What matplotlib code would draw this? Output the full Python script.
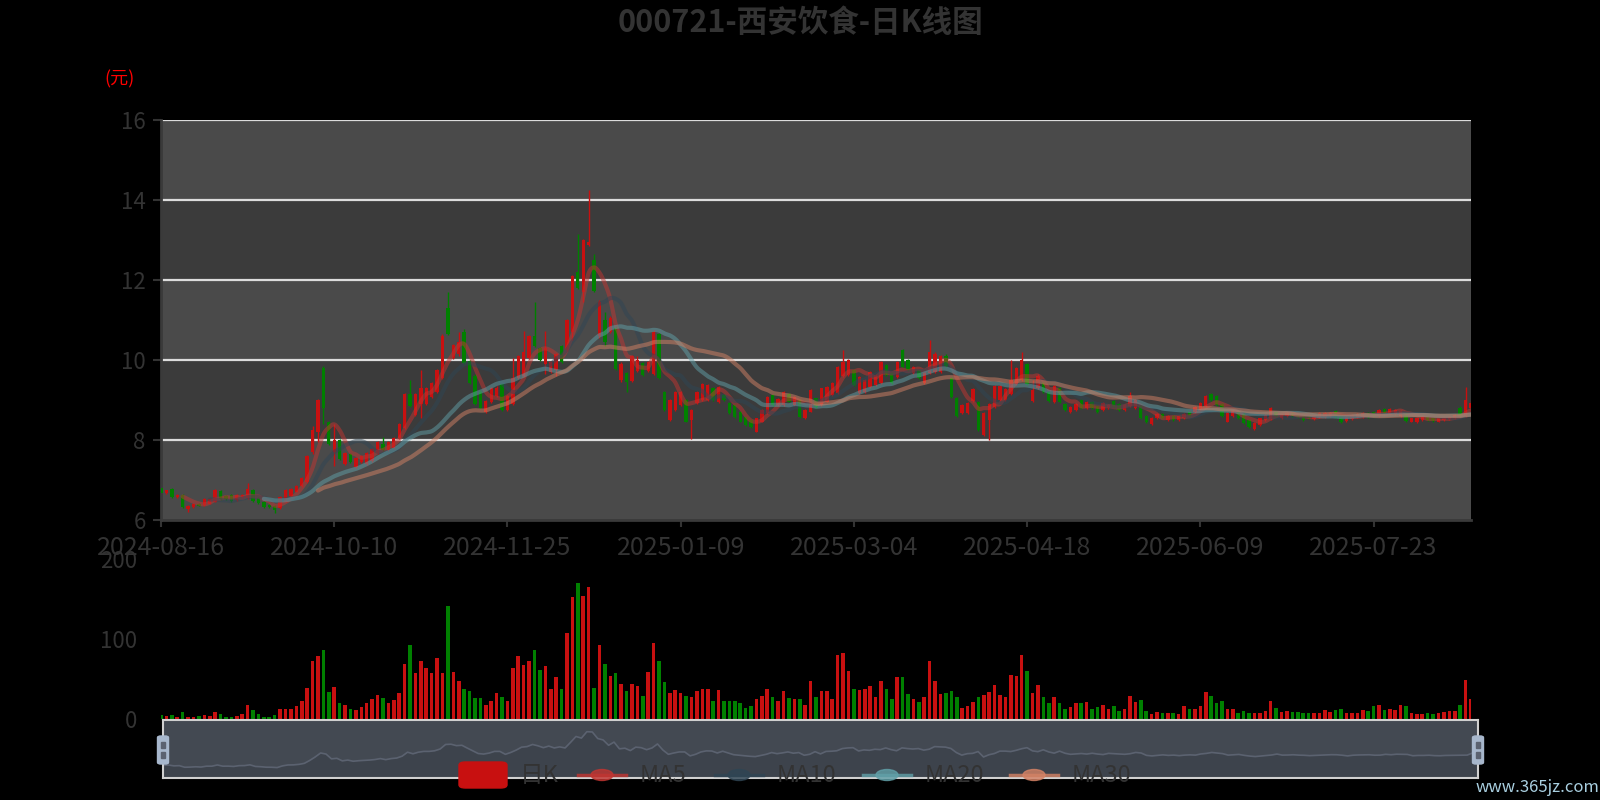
import numpy as np
import matplotlib
matplotlib.use('Agg')
import matplotlib.pyplot as plt
from matplotlib.patches import FancyBboxPatch, Circle, Rectangle
from matplotlib.lines import Line2D

plt.rcParams['font.family'] = ['Noto Sans CJK SC', 'DejaVu Sans']

title = '000721-西安饮食-日K线图'
tick_labels = ['2024-08-16', '2024-10-10', '2024-11-25', '2025-01-09',
               '2025-03-04', '2025-04-18', '2025-06-09', '2025-07-23']
tick_step = 32

opens = [6.81, 6.67, 6.77, 6.58, 6.62, 6.28, 6.32, 6.40, 6.38, 6.41,
         6.46, 6.72, 6.60, 6.62, 6.50, 6.58, 6.55, 6.75, 6.55, 6.45,
         6.38, 6.35, 6.30, 6.46, 6.60, 6.71, 6.85, 6.95, 7.70, 8.20,
         9.80, 8.45, 7.70, 8.00, 7.40, 7.65, 7.32, 7.45, 7.40, 7.47,
         7.67, 7.90, 7.75, 7.80, 8.05, 8.30, 9.15, 8.62, 8.90, 8.90,
         9.08, 9.20, 9.55, 11.30, 10.05, 10.15, 10.70, 9.97, 9.60, 9.20,
         8.70, 8.95, 9.10, 9.40, 8.75, 8.90, 9.55, 9.60, 10.05, 10.60,
         10.30, 9.90, 9.70, 9.75, 10.35, 10.25, 10.70, 12.20, 11.70, 12.88,
         12.50, 10.60, 11.00, 10.70, 10.80, 9.50, 9.67, 9.48, 9.72, 9.92,
         9.72, 9.65, 10.65, 9.20, 8.50, 8.75, 8.88, 9.00, 8.50, 8.92,
         9.00, 9.00, 9.30, 8.95, 9.13, 8.93, 8.87, 8.70, 8.58, 8.50,
         8.21, 8.46, 8.67, 9.12, 8.87, 8.87, 9.15, 8.87, 9.00, 8.54,
         8.71, 9.04, 8.87, 8.96, 9.12, 9.17, 9.60, 9.63, 9.75, 9.17,
         9.20, 9.33, 9.38, 9.42, 9.88, 9.67, 9.58, 10.25, 10.00, 9.67,
         9.75, 9.42, 9.67, 9.70, 9.70, 10.10, 9.55, 9.05, 8.67, 8.67,
         8.97, 8.96, 8.12, 8.50, 8.83, 9.00, 9.00, 9.15, 9.40, 9.50,
         9.90, 8.97, 9.30, 9.45, 9.20, 8.95, 9.30, 8.90, 8.70, 8.75,
         9.00, 8.80, 8.95, 8.85, 8.75, 8.80, 8.97, 8.90, 8.75, 8.85,
         8.80, 8.85, 8.60, 8.40, 8.55, 8.65, 8.50, 8.60, 8.50, 8.55,
         8.70, 8.70, 8.77, 8.85, 9.15, 9.10, 8.90, 8.46, 8.60, 8.70,
         8.65, 8.50, 8.27, 8.38, 8.50, 8.52, 8.70, 8.55, 8.60, 8.68,
         8.63, 8.60, 8.60, 8.52, 8.58, 8.58, 8.60, 8.72, 8.60, 8.48,
         8.52, 8.57, 8.58, 8.67, 8.70, 8.60, 8.77, 8.65, 8.65, 8.60,
         8.68, 8.46, 8.44, 8.49, 8.57, 8.55, 8.46, 8.49, 8.52, 8.55,
         8.80, 8.60, 8.80]

closes = [6.67, 6.74, 6.58, 6.62, 6.32, 6.35, 6.41, 6.36, 6.52, 6.52,
          6.75, 6.52, 6.53, 6.47, 6.62, 6.63, 6.78, 6.47, 6.42, 6.33,
          6.32, 6.26, 6.58, 6.75, 6.77, 6.86, 7.05, 7.60, 8.25, 9.00,
          8.80, 7.90, 8.00, 7.52, 7.67, 7.45, 7.55, 7.60, 7.67, 7.77,
          7.95, 7.75, 7.95, 8.05, 8.40, 9.15, 8.85, 9.15, 9.30, 9.30,
          9.42, 9.75, 10.60, 10.65, 10.38, 10.45, 9.92, 9.42, 8.90, 8.80,
          8.98, 9.30, 9.30, 8.75, 9.10, 9.55, 10.10, 10.20, 10.60, 10.35,
          10.00, 10.30, 9.95, 10.15, 9.95, 11.00, 12.10, 11.80, 13.00, 12.95,
          11.72, 11.45, 10.45, 11.05, 9.78, 9.90, 9.45, 10.10, 10.00, 9.62,
          9.95, 10.70, 9.55, 8.75, 9.00, 9.20, 9.20, 8.46, 8.75, 9.20,
          9.40, 9.37, 9.00, 9.33, 9.00, 8.68, 8.58, 8.46, 8.38, 8.32,
          8.54, 8.75, 9.08, 8.87, 9.02, 9.20, 8.96, 9.08, 8.58, 8.75,
          9.25, 8.83, 9.29, 9.33, 9.42, 9.83, 9.95, 10.00, 9.38, 9.58,
          9.50, 9.70, 9.63, 9.95, 9.63, 9.42, 9.96, 9.83, 9.75, 9.83,
          9.54, 9.71, 10.20, 10.15, 10.10, 9.85, 9.08, 8.60, 8.87, 8.93,
          9.27, 8.25, 8.67, 8.90, 9.35, 9.35, 9.27, 9.50, 9.80, 10.00,
          9.40, 9.25, 9.60, 9.20, 8.97, 9.35, 8.95, 8.75, 8.82, 8.90,
          8.80, 8.95, 8.80, 8.70, 8.93, 8.87, 8.82, 8.75, 8.87, 9.10,
          9.00, 8.55, 8.45, 8.55, 8.65, 8.55, 8.60, 8.50, 8.60, 8.65,
          8.60, 8.82, 8.92, 9.10, 9.00, 8.88, 8.60, 8.67, 8.73, 8.55,
          8.42, 8.33, 8.43, 8.54, 8.62, 8.80, 8.60, 8.62, 8.67, 8.60,
          8.57, 8.50, 8.55, 8.60, 8.67, 8.68, 8.67, 8.58, 8.45, 8.58,
          8.63, 8.65, 8.67, 8.58, 8.60, 8.75, 8.67, 8.77, 8.75, 8.73,
          8.48, 8.54, 8.54, 8.58, 8.50, 8.48, 8.54, 8.56, 8.58, 8.62,
          8.60, 9.00, 8.92]

lows = [6.65, 6.65, 6.56, 6.56, 6.30, 6.21, 6.30, 6.34, 6.36, 6.39,
        6.44, 6.50, 6.51, 6.45, 6.48, 6.56, 6.53, 6.45, 6.40, 6.31,
        6.30, 6.18, 6.28, 6.44, 6.58, 6.69, 6.83, 6.92, 7.65, 7.95,
        8.40, 7.88, 7.35, 7.50, 7.37, 7.43, 7.30, 7.43, 7.38, 7.45,
        7.65, 7.73, 7.73, 7.78, 8.03, 8.28, 8.83, 8.60, 8.55, 8.88,
        9.06, 9.18, 9.53, 10.63, 10.03, 10.10, 9.90, 9.40, 8.88, 8.78,
        8.68, 8.93, 9.08, 8.73, 8.73, 8.88, 9.53, 9.58, 10.03, 10.33,
        9.98, 9.65, 9.68, 9.60, 9.93, 10.23, 10.50, 11.78, 11.45, 12.85,
        11.70, 10.55, 10.35, 10.68, 9.75, 9.46, 9.20, 9.46, 9.70, 9.60,
        9.70, 9.62, 9.53, 8.73, 8.48, 8.73, 8.86, 8.44, 8.03, 8.90,
        8.98, 8.98, 8.98, 8.93, 8.98, 8.66, 8.56, 8.44, 8.36, 8.30,
        8.19, 8.44, 8.65, 8.85, 8.85, 8.85, 8.94, 8.85, 8.56, 8.52,
        8.69, 8.81, 8.85, 8.94, 9.10, 9.15, 9.58, 9.61, 9.36, 9.15,
        9.18, 9.31, 9.36, 9.40, 9.61, 9.40, 9.56, 9.81, 9.73, 9.65,
        9.52, 9.40, 9.65, 9.67, 9.68, 9.83, 9.06, 8.58, 8.65, 8.65,
        8.95, 8.23, 8.10, 8.00, 8.81, 8.98, 8.98, 9.13, 9.38, 9.48,
        9.38, 8.95, 9.28, 9.18, 8.95, 8.93, 8.93, 8.73, 8.68, 8.73,
        8.78, 8.78, 8.78, 8.68, 8.73, 8.78, 8.80, 8.73, 8.73, 8.83,
        8.78, 8.53, 8.43, 8.38, 8.53, 8.53, 8.48, 8.48, 8.48, 8.53,
        8.58, 8.68, 8.75, 8.83, 8.98, 8.86, 8.58, 8.44, 8.58, 8.53,
        8.40, 8.31, 8.25, 8.36, 8.48, 8.50, 8.58, 8.53, 8.58, 8.58,
        8.55, 8.48, 8.53, 8.50, 8.56, 8.56, 8.58, 8.56, 8.43, 8.46,
        8.50, 8.55, 8.56, 8.56, 8.58, 8.58, 8.65, 8.63, 8.63, 8.58,
        8.46, 8.44, 8.42, 8.47, 8.48, 8.46, 8.44, 8.47, 8.50, 8.53,
        8.58, 8.58, 8.75]

highs = [6.83, 6.76, 6.79, 6.65, 6.64, 6.37, 6.43, 6.42, 6.54, 6.54,
         6.77, 6.74, 6.62, 6.64, 6.64, 6.65, 6.92, 6.77, 6.57, 6.47,
         6.40, 6.37, 6.60, 6.77, 6.79, 6.88, 7.07, 7.62, 8.35, 9.02,
         9.85, 8.47, 8.40, 8.02, 7.69, 7.67, 7.57, 7.62, 7.69, 7.79,
         7.97, 8.07, 7.97, 8.07, 8.42, 9.17, 9.50, 9.17, 9.75, 9.32,
         9.44, 9.77, 10.65, 11.70, 10.40, 10.70, 10.78, 9.99, 9.64, 9.25,
         9.00, 9.32, 9.35, 9.42, 9.12, 10.05, 10.12, 10.72, 10.62, 11.45,
         10.32, 10.72, 9.97, 10.17, 10.37, 11.02, 12.12, 13.15, 13.02, 14.25,
         12.65, 11.50, 11.20, 11.10, 10.85, 9.95, 9.70, 10.12, 10.10, 9.94,
         9.97, 10.75, 10.67, 9.22, 9.02, 9.22, 9.22, 9.02, 8.77, 9.22,
         9.42, 9.39, 9.32, 9.35, 9.15, 8.95, 8.89, 8.72, 8.60, 8.52,
         8.56, 8.77, 9.10, 9.14, 9.04, 9.22, 9.17, 9.10, 9.02, 8.77,
         9.27, 9.06, 9.31, 9.35, 9.44, 9.85, 10.25, 10.02, 9.77, 9.60,
         9.52, 9.72, 9.65, 9.97, 9.90, 9.69, 9.98, 10.27, 10.02, 9.85,
         9.77, 9.73, 10.50, 10.21, 10.12, 10.15, 9.57, 9.07, 8.89, 8.95,
         9.29, 8.98, 8.69, 8.92, 9.37, 9.37, 9.29, 10.00, 9.82, 10.20,
         9.92, 9.50, 9.65, 9.47, 9.22, 9.37, 9.32, 8.92, 8.84, 8.92,
         9.02, 8.97, 8.97, 8.87, 8.95, 8.89, 8.99, 8.92, 8.89, 9.20,
         9.02, 8.87, 8.62, 8.57, 8.67, 8.67, 8.62, 8.62, 8.62, 8.67,
         8.72, 8.84, 8.94, 9.13, 9.17, 9.12, 8.92, 8.69, 8.75, 8.72,
         8.67, 8.52, 8.45, 8.56, 8.64, 8.82, 8.72, 8.64, 8.69, 8.70,
         8.65, 8.62, 8.62, 8.62, 8.69, 8.70, 8.69, 8.74, 8.62, 8.60,
         8.65, 8.67, 8.69, 8.69, 8.72, 8.77, 8.79, 8.79, 8.77, 8.75,
         8.70, 8.56, 8.56, 8.60, 8.59, 8.57, 8.56, 8.58, 8.60, 8.64,
         8.85, 9.32, 9.00]

volumes = [5.4, 4, 5.4, 3, 9, 3, 2, 4, 5, 4,
           9, 6, 2, 3, 4, 6, 17, 11, 6, 3,
           3, 5, 12, 12, 12, 16, 22, 39, 72, 79,
           86, 34, 40, 20, 17, 13, 11, 15, 20, 25,
           30, 26, 20, 24, 33, 69, 92, 58, 73, 64,
           58, 76, 58, 141, 59, 47, 37, 35, 26, 26,
           18, 22, 33, 28, 22, 64, 79, 67, 72, 86,
           61, 66, 37, 52, 38, 108, 153, 170, 154, 165,
           39, 93, 69, 54, 58, 44, 35, 44, 41, 29,
           59, 95, 72, 46, 33, 36, 32, 29, 27, 35,
           37, 37, 23, 36, 22, 22, 22, 20, 14, 16,
           25, 29, 37, 27, 23, 35, 26, 25, 25, 18,
           48, 28, 35, 35, 25, 80, 82, 60, 37, 36,
           38, 41, 27, 48, 37, 25, 53, 52, 31, 25,
           21, 27, 73, 48, 31, 33, 35, 27, 14, 16,
           21, 27, 30, 34, 42, 30, 27, 55, 54, 80,
           60, 32, 42, 28, 20, 28, 20, 12, 15, 20,
           20, 21, 13, 15, 18, 12, 16, 10, 12, 29,
           21, 24, 10, 6, 9, 7.5, 8, 7.5, 6, 16,
           13, 12, 16, 34, 29, 20, 22, 13, 12, 7.5,
           10, 8, 7, 7, 10, 23, 14, 9, 10, 9,
           9, 7, 8, 7, 7, 11, 9, 11, 12, 7.5,
           7.5, 7.5, 11, 10, 16, 18, 11, 12, 11, 17,
           16, 7.5, 6, 6, 7.5, 6, 8, 9, 10, 10,
           18, 49, 25]

ma_periods = [5, 10, 20, 30]
ma_colors = ['#c23531', '#2f4554', '#61a0a8', '#d48265']

up_color = '#c81010'
down_color = '#008000'
text_color = '#333333'

o = np.array(opens)
c = np.array(closes)
lo = np.array(lows)
hi = np.array(highs)
vol = np.array(volumes)
x = np.arange(len(c))
up = c >= o
colors = np.where(up, up_color, down_color)

fig = plt.figure(figsize=(16, 8), dpi=100, facecolor='black')


def px_axes(l, t, r, b):
    return fig.add_axes([l / 1600, 1 - b / 800, (r - l) / 1600, (b - t) / 800])


def smooth_path(xs, ys, steps=8):
    # catmull-rom rendering of the line, like a smoothed line series
    px = np.concatenate([[xs[0]], xs, [xs[-1]]])
    py = np.concatenate([[ys[0]], ys, [ys[-1]]])
    t = np.linspace(0, 1, steps, endpoint=False)
    out_x, out_y = [], []
    for k in range(1, len(px) - 2):
        for arr, out in ((px, out_x), (py, out_y)):
            p0, p1, p2, p3 = arr[k - 1], arr[k], arr[k + 1], arr[k + 2]
            out.extend(0.5 * ((2 * p1) + (-p0 + p2) * t + (2 * p0 - 5 * p1 + 4 * p2 - p3) * t ** 2
                              + (-p0 + 3 * p1 - 3 * p2 + p3) * t ** 3))
    out_x.append(xs[-1])
    out_y.append(ys[-1])
    return out_x, out_y


# price panel
ax = px_axes(161, 120, 1471, 520)
ax.set_facecolor('black')
for k, y0 in enumerate(range(6, 16, 2)):
    ax.axhspan(y0, y0 + 2, color='#4a4a4a' if k % 2 == 0 else '#3b3b3b', zorder=0, lw=0)
for y0 in range(8, 17, 2):
    ax.axhline(y0, color='#dcdcdc', lw=1.6, zorder=1)

ax.vlines(x, lo, hi, colors=colors, lw=1.0, zorder=2)
body_h = np.maximum(np.abs(c - o), 0.02)
ax.bar(x, body_h, bottom=np.minimum(o, c), width=0.62, color=colors, lw=0, zorder=3)

for n, col in zip(ma_periods, ma_colors):
    ma = np.convolve(c, np.ones(n) / n, mode='valid')
    sx, sy = smooth_path(x[n - 1:], ma)
    ax.plot(sx, sy, color=col, lw=3, alpha=0.5, zorder=4, solid_capstyle='round')

ax.set_xlim(0, len(c) - 1)
ax.set_ylim(6, 16)
ax.set_yticks(range(6, 17, 2))
ax.set_xticks(np.arange(len(tick_labels)) * tick_step)
ax.set_xticklabels(tick_labels)
ax.tick_params(axis='y', colors=text_color, labelsize=16, length=6, width=1.5, pad=5)
ax.tick_params(axis='x', colors=text_color, labelsize=18, length=5, width=1.5, pad=6)
for s in ['top', 'right']:
    ax.spines[s].set_visible(False)
for s in ['left', 'bottom']:
    ax.spines[s].set_color('#3a3a3a')
    ax.spines[s].set_linewidth(2)

# volume panel
axv = px_axes(161, 559, 1471, 719)
axv.set_facecolor('none')
axv.bar(x, vol, width=0.66, color=colors, lw=0)
axv.set_xlim(0, len(c) - 1)
axv.set_ylim(0, 200)
axv.set_yticks([0, 100, 200])
axv.set_xticks([])
axv.tick_params(axis='y', colors=text_color, labelsize=16, length=0, pad=17)
for s in axv.spines.values():
    s.set_visible(False)

# data zoom slider
axs = px_axes(163, 720, 1478, 778)
axs.set_facecolor('#434952')
axs.fill_between(x, 4.3, c, color='#3d434c', lw=0)
axs.plot(x, c, color='#5b6270', lw=1.2)
axs.set_xlim(0, len(c) - 1)
axs.set_ylim(4.3, 15.2)
axs.set_xticks([])
axs.set_yticks([])
for s in axs.spines.values():
    s.set_color('#d0d0d0')
    s.set_linewidth(1.5)


def fx(p):
    return p / 1600


def fy(p):
    return 1 - p / 800


for hx in [163, 1478]:
    fig.patches.append(FancyBboxPatch((fx(hx - 5.5), fy(764)), fx(11), 28 / 800,
                                      boxstyle='round,pad=0,rounding_size=0.002',
                                      transform=fig.transFigure, color='#a7b7cc', zorder=5))
    for yy in [745, 755]:
        fig.patches.append(Rectangle((fx(hx - 2), fy(yy + 3)), fx(4), 6 / 800,
                                     transform=fig.transFigure, color='#5b6270', zorder=6))

# legend
leg_y = 775
fig.patches.append(FancyBboxPatch((fx(459), fy(788)), fx(48), 26 / 800,
                                  boxstyle='round,pad=0,rounding_size=0.004',
                                  transform=fig.transFigure, color=up_color, zorder=7))
fig.text(fx(520), fy(leg_y), '日K', color=text_color, fontsize=17, va='center', ha='left')
leg_items = [('MA5', 578), ('MA10', 715), ('MA20', 863), ('MA30', 1010)]
for (name, lx), col in zip(leg_items, ma_colors):
    fig.lines.append(Line2D([fx(lx), fx(lx + 48)], [fy(leg_y), fy(leg_y)],
                            transform=fig.transFigure, color=col, lw=2.5, alpha=0.8, zorder=7))
    fig.patches.append(Circle((fx(lx + 24), fy(leg_y)), 11 / 1600, transform=fig.transFigure,
                              color=col, alpha=0.8, zorder=8))
    fig.text(fx(lx + 62), fy(leg_y), name, color=text_color, fontsize=17, va='center', ha='left')

fig.text(0.5, fy(23), title, color=text_color, fontsize=22, fontweight='bold',
         ha='center', va='center')
fig.text(fx(119), fy(79), '(元)', color='#ff0000', fontsize=13, ha='center', va='center')
fig.text(fx(1537), fy(787), 'www.365jz.com', color='#a9cfe0', fontsize=12,
         ha='center', va='center')

fig.savefig('out.png', dpi=100, facecolor='black')
